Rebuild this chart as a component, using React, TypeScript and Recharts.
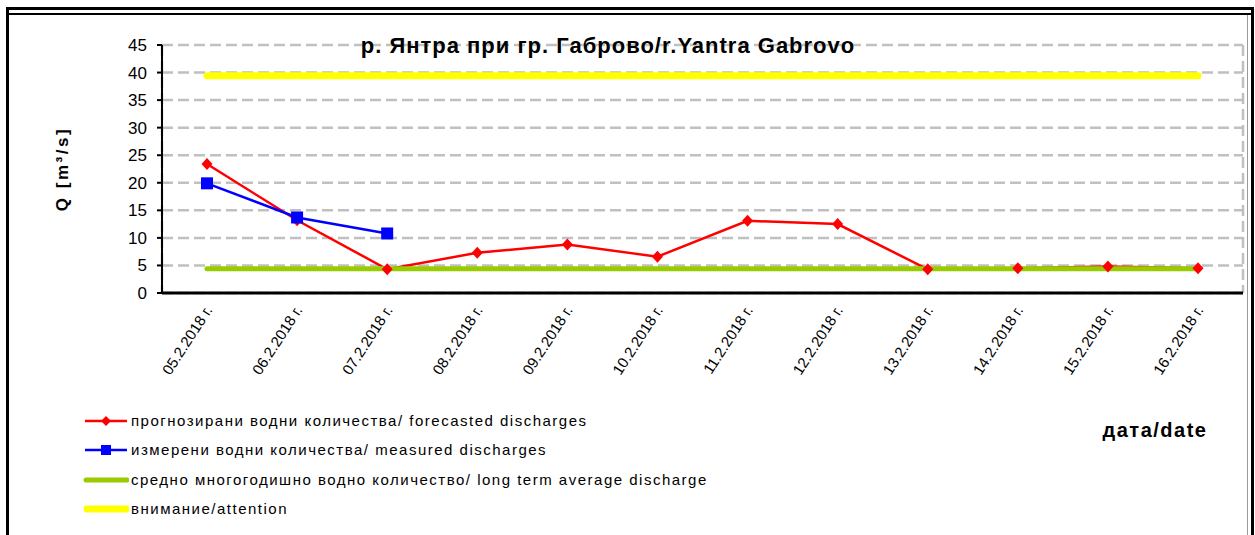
import React from 'react';
import { LineChart, Line, XAxis, YAxis, CartesianGrid } from 'recharts';

const dates = [
  '05.2.2018 г.', '06.2.2018 г.', '07.2.2018 г.', '08.2.2018 г.',
  '09.2.2018 г.', '10.2.2018 г.', '11.2.2018 г.', '12.2.2018 г.',
  '13.2.2018 г.', '14.2.2018 г.', '15.2.2018 г.', '16.2.2018 г.',
];
const forecasted = [23.4, 13.2, 4.3, 7.3, 8.8, 6.6, 13.1, 12.5, 4.3, 4.5, 4.8, 4.5];
const measured: (number | null)[] = [19.9, 13.7, 10.8, null, null, null, null, null, null, null, null, null];
const longTermAverage = [4.4, 4.4, 4.4, 4.4, 4.4, 4.4, 4.4, 4.4, 4.4, 4.4, 4.4, 4.4];
const attention = [39.4, 39.4, 39.4, 39.4, 39.4, 39.4, 39.4, 39.4, 39.4, 39.4, 39.4, 39.4];
const yTicks = [0, 5, 10, 15, 20, 25, 30, 35, 40, 45];
const boundaryTicks = [0, 1, 2, 3, 4, 5, 6, 7, 8, 9, 10, 11, 12];

const titleText = 'р. Янтра при гр. Габрово/r.Yantra Gabrovo';
const yLabel = 'Q [m³/s]';
const xLabel = 'дата/date';
const legendItems = [
  { key: 'forecasted', label: 'прогнозирани водни количества/ forecasted discharges', color: '#ff0000', kind: 'diamond' },
  { key: 'measured', label: 'измерени водни количества/ measured discharges', color: '#0000ff', kind: 'square' },
  { key: 'average', label: 'средно многогодишно водно количество/ long term average discharge', color: '#99cc00', kind: 'thick' },
  { key: 'attention', label: 'внимание/attention', color: '#ffff00', kind: 'thicker' },
];

const rows = dates.map((d, i) => ({
  date: d,
  forecasted: forecasted[i],
  measured: measured[i],
  average: longTermAverage[i],
  attention: attention[i],
}));

const FONT = '"Liberation Sans", Arial, sans-serif';

const Diamond = (p: any) => {
  const { cx, cy, index } = p;
  if (cx == null || cy == null) return <g key={`d${index}`} />;
  return (
    <polygon
      key={`d${index}`}
      points={`${cx},${cy - 6} ${cx + 5.5},${cy} ${cx},${cy + 6} ${cx - 5.5},${cy}`}
      fill="#ff0000"
    />
  );
};

const Square = (p: any) => {
  const { cx, cy, index, value } = p;
  if (cx == null || cy == null || value == null) return <g key={`s${index}`} />;
  return <rect key={`s${index}`} x={cx - 6} y={cy - 6} width={12} height={12} fill="#0000ff" />;
};

const DateTick = (p: any) => {
  const { x, y, payload } = p;
  const tx = x + 6;
  const ty = y + 3;
  return (
    <text
      x={tx}
      y={ty}
      transform={`rotate(-57, ${tx}, ${ty})`}
      textAnchor="end"
      fontSize={15}
      fontFamily={FONT}
      fill="#000"
    >
      {payload.value}
    </text>
  );
};

const LegendIcon = ({ kind, color }: { kind: string; color: string }) => (
  <svg width={46} height={16} style={{ display: 'block' }}>
    {kind === 'diamond' && (
      <>
        <line x1={2} y1={8} x2={44} y2={8} stroke={color} strokeWidth={2.5} />
        <polygon points="23,3 28,8 23,13 18,8" fill={color} />
      </>
    )}
    {kind === 'square' && (
      <>
        <line x1={2} y1={8} x2={44} y2={8} stroke={color} strokeWidth={2.5} />
        <rect x={18} y={3} width={10} height={10} fill={color} />
      </>
    )}
    {kind === 'thick' && (
      <line x1={3} y1={8} x2={44} y2={8} stroke={color} strokeWidth={5} strokeLinecap="round" />
    )}
    {kind === 'thicker' && (
      <line x1={4} y1={8} x2={43} y2={8} stroke={color} strokeWidth={7} strokeLinecap="round" />
    )}
  </svg>
);

export default function App() {
  return (
    <div
      style={{
        position: 'absolute',
        left: 0,
        top: 0,
        width: 1255,
        height: 535,
        overflow: 'hidden',
        background: '#fff',
        fontFamily: FONT,
      }}
    >
      {/* frame */}
      <div
        style={{
          position: 'absolute',
          left: 6,
          top: 7,
          width: 1248,
          height: 600,
          border: '3px solid #000',
          boxSizing: 'border-box',
        }}
      />
      <div style={{ position: 'absolute', left: 9, top: 13, width: 1242, height: 2, background: '#000' }} />
      <div style={{ position: 'absolute', left: 1247, top: 15, width: 1, height: 520, background: '#9a9a9a' }} />

      <div style={{ position: 'absolute', left: 0, top: 0 }}>
        <LineChart
          width={1255}
          height={535}
          data={rows}
          margin={{ top: 45, right: 12, bottom: 142, left: 62 }}
        >
          <CartesianGrid
            xAxisId="a"
            stroke="#c0c0c0"
            strokeWidth={2.5}
            strokeDasharray="11 5"
          />
          <XAxis
            xAxisId="a"
            type="number"
            domain={[0, 12]}
            ticks={boundaryTicks}
            interval={0}
            tick={false}
            tickSize={5}
            height={6}
            axisLine={{ stroke: '#000', strokeWidth: 3 }}
            tickLine={{ stroke: '#000', strokeWidth: 2 }}
            allowDataOverflow
          />
          <XAxis
            xAxisId="b"
            dataKey="date"
            type="category"
            padding={{ left: 45, right: 45 }}
            interval={0}
            axisLine={false}
            tickLine={false}
            height={94}
            tick={<DateTick />}
          />
          <YAxis
            domain={[0, 45]}
            ticks={yTicks}
            interval={0}
            width={100}
            tickSize={5}
            tickMargin={10}
            axisLine={{ stroke: '#000', strokeWidth: 2 }}
            tickLine={{ stroke: '#000', strokeWidth: 2 }}
            tick={{ fill: '#000', fontSize: 17, fontFamily: FONT }}
            label={{
              value: yLabel,
              angle: -90,
              position: 'insideLeft',
              offset: 0,
              style: {
                textAnchor: 'middle',
                fontSize: 17,
                letterSpacing: 2.5,
                fontWeight: 'bold',
                fill: '#000',
                fontFamily: FONT,
              },
            }}
          />
          <Line
            xAxisId="b"
            dataKey="forecasted"
            stroke="#ff0000"
            strokeWidth={2.5}
            dot={Diamond}
            activeDot={false}
            isAnimationActive={false}
          />
          <Line
            xAxisId="b"
            dataKey="measured"
            stroke="#0000ff"
            strokeWidth={2.5}
            dot={Square}
            activeDot={false}
            connectNulls={false}
            isAnimationActive={false}
          />
          <Line
            xAxisId="b"
            dataKey="average"
            stroke="#99cc00"
            strokeWidth={5}
            strokeLinecap="round"
            dot={false}
            activeDot={false}
            isAnimationActive={false}
          />
          <Line
            xAxisId="b"
            dataKey="attention"
            stroke="#ffff00"
            strokeWidth={7}
            strokeLinecap="round"
            dot={false}
            activeDot={false}
            isAnimationActive={false}
          />
        </LineChart>
      </div>

      {/* title */}
      <div
        style={{
          position: 'absolute',
          left: 608,
          top: 34,
          transform: 'translateX(-50%)',
          whiteSpace: 'nowrap',
          fontSize: 22,
          letterSpacing: 1,
          fontWeight: 'bold',
          color: '#000',
          lineHeight: '24px',
        }}
      >
        {titleText}
      </div>

      {/* x axis title */}
      <div
        style={{
          position: 'absolute',
          left: 1155,
          top: 418,
          transform: 'translateX(-50%)',
          whiteSpace: 'nowrap',
          fontSize: 20,
          letterSpacing: 1.5,
          fontWeight: 'bold',
          color: '#000',
          lineHeight: '24px',
        }}
      >
        {xLabel}
      </div>

      {/* legend */}
      <div style={{ position: 'absolute', left: 83, top: 406 }}>
        {legendItems.map((it) => (
          <div
            key={it.key}
            style={{ display: 'flex', alignItems: 'center', height: 29.5 }}
          >
            <LegendIcon kind={it.kind} color={it.color} />
            <span
              style={{
                marginLeft: 2,
                fontSize: 15,
                letterSpacing: 1.5,
                color: '#000',
                whiteSpace: 'nowrap',
                lineHeight: '18px',
              }}
            >
              {it.label}
            </span>
          </div>
        ))}
      </div>
    </div>
  );
}
